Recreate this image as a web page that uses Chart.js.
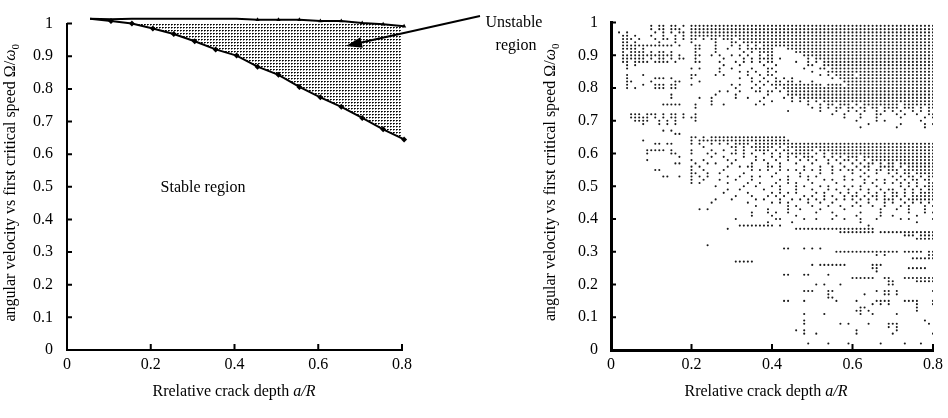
<!DOCTYPE html>
<html>
<head>
<meta charset="utf-8">
<script src="https://cdn.jsdelivr.net/npm/chart.js@4/dist/chart.umd.min.js"></script>
<style>
  html, body { margin: 0; padding: 0; background: #fff; }
  #wrap { position: relative; width: 948px; height: 418px; overflow: hidden; }
  #left { position: absolute; left: 0; top: 0; }
  #right { position: absolute; left: 520px; top: 0; }
</style>
</head>
<body>
<div id="wrap">
  <canvas id="left" width="560" height="418"></canvas>
  <canvas id="right" width="428" height="418"></canvas>
</div>
<script>
// stability boundary (left panel)
const crackDepth = [0.055, 0.105, 0.155, 0.205, 0.255, 0.305, 0.355, 0.405, 0.455, 0.505, 0.555, 0.605, 0.655, 0.705, 0.755, 0.805];
const upperBound = [1.015, 1.013, 1.015, 1.015, 1.015, 1.015, 1.015, 1.015, 1.012, 1.012, 1.012, 1.008, 1.008, 1.002, 0.998, 0.992];
const lowerBound = [1.015, 1.008, 1.0, 0.985, 0.968, 0.946, 0.921, 0.902, 0.868, 0.843, 0.806, 0.774, 0.745, 0.711, 0.676, 0.645];

const xTickValues = [0, 0.2, 0.4, 0.6, 0.8];
const xTickLabels = ["0", "0.2", "0.4", "0.6", "0.8"];
const yTickValues = [0, 0.1, 0.2, 0.3, 0.4, 0.5, 0.6, 0.7, 0.8, 0.9, 1];
const yTickLabels = ["0", "0.1", "0.2", "0.3", "0.4", "0.5", "0.6", "0.7", "0.8", "0.9", "1"];

// unstable points (right panel): "yy:" then one char per a/R column (0.00 .. 0.80, step 0.01), '#' = point
const gridStep = 0.01;
const unstableRows = [
  "99:..........|#.##.##.#.|##########|##########|##########|##########|##########|##########|#",
  "98:..........|#.##.###..|##########|##########|##########|##########|##########|##########|#",
  "97:..#.#.....|.#.#.#.##.|##########|##########|##########|##########|##########|##########|#",
  "96:...##.#...|#..#..#.#.|##########|##########|##########|##########|##########|##########|#",
  "95:...###.#..|.#.##.#.#.|##.#.##.##|#.########|##########|##########|##########|##########|#",
  "94:...##.#...|..#...#...|#.....#...|##.#######|##########|##########|##########|##########|#",
  "93:...#######|######.#..|.##...#...|#.#.#.#.##|##########|##########|##########|##########|#",
  "92:...####.#.|..........|.##...#..#|..#.######|#...######|##########|##########|##########|#",
  "91:...#.####.|#.##.#....|.#....#...|...#.#.###|#.....####|##########|##########|##########|#",
  "90:...#######|######.#..|.##..#.#..|#.#.#..#.#|#.......##|##########|##########|##########|#",
  "89:...######.|#.##.#.##.|.#......#.|...#.#.###|#.#......#|.#########|##########|##########|#",
  "88:...##.####|.####.#...|.##....#..|.#.#.#.#.#|#.....#..#|.#.#######|##########|##########|#",
  "87:....#.#...|..........|........#.|..#.....#.|.#.......#|#..#######|##########|##########|#",
  "86:....#.....|..........|#.#....#..|#....#...#|#.......#.|..##.#####|##########|##########|#",
  "85:..........|..........|.......#..|..#.#.#..#|.#........|#...######|##########|##########|#",
  "84:....#...#.|..........|##....#.#.|....#..#.#|#.........|..#.#.####|#.########|##########|#",
  "83:....#.....|.###.#....|#.........|..#..#..#.|.#.#.#....|.....#.###|##########|##########|#",
  "82:....##....|#.....##..|..#.......|.....#.#.#|.##.##.#..|#.......##|##########|##########|#",
  "81:....#...#.|.###.##...|#.........|#.#...#.#.|##########|###.####.#|##########|##########|#",
  "80:....#.#...|.###.##...|..........|.#...#.#..|.#.#######|##########|##########|##########|#",
  "79:..........|..........|.......#.#|..#...##.#|#.#.######|##########|##########|##########|#",
  "78:..........|.....#....|......#...|.#.......#|....######|##########|##########|##########|#",
  "77:..........|.....#....|..#..#....|.#..#...#.|...#.#.###|##########|##########|##########|#",
  "76:..........|..........|.....#....|.......#..|#....#.#.#|.#.#######|##########|##########|#",
  "75:..........|...#####..|.#...#..#.|......#.#.|.........#|..#.##.###|.#.#######|##.#######|#",
  "74:..........|..........|.#........|..........|..........|#.#.#.##.#|#.##.##.##|##.###.#.#|#",
  "73:..........|..........|..........|..........|....#.....|..#...#..#|.#.#..#.#.|#.#..#.#.#|.",
  "72:.....###.#|##.#.##.#.|.#........|..........|..........|.....#..#.|..#...##..|.#.#..#..#|#",
  "71:.....#####|.#.#.##.#.|##........|..........|..........|........#.|..#...#...|..#.....#.|#",
  "70:......####|..#.#.#...|.#........|..........|..........|..........|.#....#.#.|.......#..|.",
  "69:........#.|..#.#.#...|..........|..........|..........|..........|....#.....|..#.....#.|#",
  "68:..........|..........|..........|..........|..........|..........|..#.......|.#......#.|.",
  "67:..........|...#.#....|..........|..........|..........|..........|..........|..........|.",
  "66:..........|......##..|..........|..........|..........|..........|..........|..........|.",
  "65:..........|..........|##.#.#####|##########|####......|..........|..........|..........|.",
  "64:........#.|..........|#.########|##########|#####.....|..........|..........|..........|.",
  "63:..........|.##.##....|#.#..#.#.#|.####.####|##########|##########|##########|##########|#",
  "62:..........|..........|...#......|##.#.#####|#.#.######|##########|##########|##########|#",
  "61:.........#|####.#....|#....#..#.|.#.#..####|.#.##.####|#.########|##########|##########|#",
  "60:.........#|.....##...|#...#.#...|##.#.#..#.|#.#.######|.#.#.#####|##########|##########|#",
  "59:..........|.......#..|.....#..#.|...#..#...|#.#.#.#.##|#..#.#.#.#|##.#######|##########|#",
  "58:.........#|..........|#..#.....#|.#....#.#.|.#..#..#.#|.#..#.#.##|.#.#.#####|##########|#",
  "57:..........|......##..|.#..#.#...|#....#...#|..#...#...|#...#..#..|#.#.##.#.#|#.########|#",
  "56:..........|..........|#.#......#|..#.##...#|#.#.....#.|..#..#..#.|.#.##..###|#.#.######|#",
  "55:..........|.##.......|#..#....#.|.....#.#.#|..#.#.#.#.|#.#..#.#.#|#.#.#.##.#|##.#######|#",
  "54:..........|..........|##..#..#..|...#......|.#.....#..|..#..#....|#..#..#..#|.#.##.####|#",
  "53:..........|...##..#..|#.#.#....#|..#..#.#..|#...#..#.#|.#......#.|..#.#.....|#.#.##.#.#|#",
  "52:..........|..........|#..#...#..|.#...#....|..#.#....#|...#.#..#.|#..#..#.#.|.#.#.##.##|.",
  "51:..........|..........|#.#......#|....#..#..|.#..#.#...|#.....#...|...#.#..#.|#.#.#.#..#|#",
  "50:..........|..........|......#...|...#..#...|#.#...#.#.|..#.#...#.|#.#...#...|..#.#.#.##|#",
  "49:..........|..........|.........#|..#.....#.|..#...#...|#...#.#..#|..#.#..#.#|#..#.#.#.#|#",
  "48:..........|..........|........#.|....#.....|#.#.#.#...|.#.#...#.#|.#..#.#.#.|##.#.#.###|#",
  "47:..........|..........|..........|.#...#...#|.#.#....#.|#..#.#..#.|##.#.##.#.|##.#.#####|#",
  "46:..........|..........|......#...|#.....#.#.|..#..#.#.#|.#.#..#.#.|#.#.#.#.##|#.#.######|#",
  "45:..........|..........|.....#....|....#.....|#.#.#....#|..#..#....|.#..#...#.|#..#.#.#.#|.",
  "44:..........|..........|..........|......#...|....#.#...|#...#..#..|#.#..#..#.|..#.#...#.|#",
  "43:..........|..........|..#.#.....|.........#|....#..#..|..#.....#.|.......#..|.#..#...#.|.",
  "42:..........|..........|..........|.....#...#|.#..#.....|.#...#....|..#....#..|....#...#.|#",
  "41:..........|..........|..........|.....#....|#.....#...|......#...|.#.....#..|#.....#...|.",
  "40:..........|..........|..........|.#........|.##.....#.|.#...#..#.|..#...#...|..#.#.....|#",
  "39:..........|..........|..........|.........#|.....#....|..........|..#.......|......#...|.",
  "38:..........|..........|..........|..########|#.#.......|..........|....#.....|..........|.",
  "37:..........|..........|.........#|..........|......####|##########|######....|..........|.",
  "36:..........|..........|..........|..........|..........|.......###|######.###|##########|#",
  "35:..........|..........|..........|..........|..........|..........|..........|...###.###|#",
  "34:..........|..........|..........|..........|..........|..........|..........|......####|#",
  "32:..........|..........|....#.....|..........|..........|..........|..........|..........|.",
  "31:..........|..........|..........|..........|...##...#.|#.#.......|..........|..........|.",
  "30:..........|..........|..........|..........|..........|......####|##########|##.#####.#|#",
  "29:..........|..........|..........|..........|..........|..........|......#.#.|.........#|#",
  "28:..........|..........|..........|..........|..........|..........|..........|.....#####|#",
  "27:..........|..........|..........|.#####....|..........|..........|..........|..........|.",
  "26:..........|..........|..........|..........|..........|#.#######.|.....###..|..........|.",
  "25:..........|..........|..........|..........|..........|..........|.....##...|....#####.|.",
  "24:..........|..........|..........|..........|..........|..........|......#...|..........|.",
  "23:..........|..........|..........|..........|...##...##|....#.....|..........|..........|.",
  "22:..........|..........|..........|..........|..........|..........|######..##|...#######|#",
  "21:..........|..........|..........|..........|..........|..........|.........#|#.....####|#",
  "20:..........|..........|..........|..........|..........|.#.#...#..|.........#|#.........|.",
  "18:..........|..........|..........|..........|........##|#...##....|......#.##|.#........|#",
  "17:..........|..........|..........|..........|..........|....#.....|...#....##|.#........|.",
  "16:..........|..........|..........|..........|..........|....##....|..........|..........|.",
  "15:..........|..........|..........|..........|...##...#.|......#...|.#....####|...####...|#",
  "14:..........|..........|..........|..........|..........|..........|.....#.#.#|......#...|#",
  "13:..........|..........|..........|..........|..........|..........|..##......|......#...|.",
  "12:..........|..........|..........|..........|..........|..........|.##.#.....|......#...|.",
  "11:..........|..........|..........|..........|........#.|...#......|..#..#....|.#........|.",
  "09:..........|..........|..........|..........|........#.|..........|..........|........#.|.",
  "08:..........|..........|..........|..........|........#.|.......#.#|....#....#|##.......#|.",
  "07:..........|..........|..........|..........|..........|..........|.........#|.#........|.",
  "06:..........|..........|..........|..........|......#.#.|..........|.#........|.#........|.",
  "05:..........|..........|..........|..........|........#.|.#........|.#........|#.........|#",
  "02:..........|..........|..........|..........|.........#|....#....#|.......#..|...#...#..|."
];

const FONT = '"Liberation Serif", "Times New Roman", serif';
const TEXT_SIZE = 16;

function decodeRows(rows) {
  const pts = [];
  rows.forEach((row) => {
    const [yy, body] = row.split(":");
    const y = parseInt(yy, 10) * gridStep;
    body.split("|").forEach((grp, g) => {
      for (let k = 0; k < grp.length; k++) {
        if (grp[k] === "#") pts.push({ x: +((g * 10 + k) * gridStep).toFixed(2), y: +y.toFixed(2) });
      }
    });
  });
  return pts;
}

function drawRich(ctx, parts, cx, cy, angle) {
  const fontFor = (p) => `${p.italic ? "italic " : ""}${p.sub ? 11 : TEXT_SIZE}px ${FONT}`;
  ctx.save();
  ctx.translate(cx, cy);
  ctx.rotate(angle);
  let total = 0;
  parts.forEach((p) => { ctx.font = fontFor(p); p.w = ctx.measureText(p.text).width; total += p.w; });
  let x = -total / 2;
  ctx.textBaseline = "middle";
  ctx.textAlign = "left";
  ctx.fillStyle = "#000";
  parts.forEach((p) => { ctx.font = fontFor(p); ctx.fillText(p.text, x, p.sub ? 5 : 0); x += p.w; });
  ctx.restore();
}

const yTitle = [
  { text: "angular velocity vs first critical speed Ω/" },
  { text: "ω", italic: true },
  { text: "0", sub: true }
];
const xTitle = [
  { text: "Rrelative crack depth " },
  { text: "a/R", italic: true }
];

// axis titles + inward tick marks
const axisDecor = {
  id: "axisDecor",
  afterDraw(chart, args, opts) {
    const { ctx, chartArea, scales } = chart;
    ctx.save();
    ctx.strokeStyle = "#000";
    ctx.lineWidth = opts.tickWidth;
    ctx.beginPath();
    scales.y.ticks.forEach((t) => {
      const y = scales.y.getPixelForValue(t.value);
      ctx.moveTo(chartArea.left, y);
      ctx.lineTo(chartArea.left + 5, y);
    });
    scales.x.ticks.forEach((t) => {
      const x = scales.x.getPixelForValue(t.value);
      ctx.moveTo(x, chartArea.bottom);
      ctx.lineTo(x, chartArea.bottom - 6);
    });
    ctx.stroke();
    ctx.restore();
    drawRich(ctx, yTitle, opts.yTitleX, (chartArea.top + chartArea.bottom) / 2 - 4, -Math.PI / 2);
    drawRich(ctx, xTitle, opts.xTitleX, 392, 0);
  }
};

// labels and arrow on the left panel
const regionNotes = {
  id: "regionNotes",
  afterDraw(chart) {
    const { ctx } = chart;
    ctx.save();
    ctx.fillStyle = "#000";
    ctx.font = `${TEXT_SIZE}px ${FONT}`;
    ctx.textAlign = "center";
    ctx.textBaseline = "middle";
    ctx.fillText("Stable region", 203, 188);
    ctx.fillText("Unstable", 514, 23);
    ctx.fillText("region", 516, 46);
    // arrow
    const x0 = 480, y0 = 16, x1 = 346, y1 = 46;
    const a = Math.atan2(y1 - y0, x1 - x0);
    ctx.strokeStyle = "#000";
    ctx.lineWidth = 2;
    ctx.beginPath();
    ctx.moveTo(x0, y0);
    ctx.lineTo(x1 - 10 * Math.cos(a), y1 - 10 * Math.sin(a));
    ctx.stroke();
    ctx.beginPath();
    ctx.moveTo(x1, y1);
    ctx.lineTo(x1 - 16 * Math.cos(a) + 5.5 * Math.sin(a), y1 - 16 * Math.sin(a) - 5.5 * Math.cos(a));
    ctx.lineTo(x1 - 16 * Math.cos(a) - 5.5 * Math.sin(a), y1 - 16 * Math.sin(a) + 5.5 * Math.cos(a));
    ctx.closePath();
    ctx.fill();
    ctx.restore();
  }
};

function makeStipple(ctx) {
  const pc = document.createElement("canvas");
  pc.width = 3;
  pc.height = 3;
  const p = pc.getContext("2d");
  p.fillStyle = "#000";
  p.fillRect(0, 0, 1, 1);
  p.fillStyle = "#333";
  p.fillRect(1, 0, 1, 1);
  p.fillStyle = "#888";
  p.fillRect(0, 1, 1, 1);
  return ctx.createPattern(pc, "repeat");
}

function scales(yWidth, axisWidth, labelPad) {
  const tickFont = { family: FONT, size: TEXT_SIZE };
  return {
    x: {
      type: "linear", min: 0, max: 0.8,
      afterFit: (s) => { s.height = 68; },
      afterBuildTicks: (s) => { s.ticks = xTickValues.map((v) => ({ value: v })); },
      ticks: { callback: (v, i) => xTickLabels[i], font: tickFont, color: "#000", padding: 5, maxRotation: 0, autoSkip: false },
      grid: { display: false, drawTicks: false },
      border: { display: true, color: "#000", width: axisWidth }
    },
    y: {
      type: "linear", min: 0, max: 1,
      afterFit: (s) => { s.width = yWidth; },
      afterBuildTicks: (s) => { s.ticks = yTickValues.map((v) => ({ value: v })); },
      ticks: { callback: (v, i) => yTickLabels[i], font: tickFont, color: "#000", padding: labelPad, autoSkip: false },
      grid: { display: false, drawTicks: false },
      border: { display: true, color: "#000", width: axisWidth }
    }
  };
}

const leftCanvas = document.getElementById("left");
const stipple = makeStipple(leftCanvas.getContext("2d"));

new Chart(leftCanvas, {
  type: "scatter",
  data: {
    datasets: [
      {
        data: crackDepth.map((x, i) => ({ x, y: upperBound[i] })),
        showLine: true, fill: false, clip: false,
        borderColor: "#000", borderWidth: 2,
        pointStyle: "triangle", pointRadius: 2.5,
        pointBackgroundColor: "#000", pointBorderColor: "#000", pointBorderWidth: 0
      },
      {
        data: crackDepth.map((x, i) => ({ x, y: lowerBound[i] })),
        showLine: true, fill: "-1", clip: false,
        backgroundColor: stipple,
        borderColor: "#000", borderWidth: 2,
        pointStyle: "rectRot", pointRadius: 3,
        pointBackgroundColor: "#000", pointBorderColor: "#000", pointBorderWidth: 0
      }
    ]
  },
  options: {
    responsive: false,
    animation: false,
    events: [],
    layout: { padding: { top: 10, right: 158, left: 0, bottom: 0 } },
    plugins: {
      legend: { display: false },
      tooltip: { enabled: false },
      axisDecor: { tickWidth: 2, yTitleX: 11, xTitleX: 234 }
    },
    scales: scales(67, 2, 14)
  },
  plugins: [axisDecor, regionNotes]
});

new Chart(document.getElementById("right"), {
  type: "scatter",
  data: {
    datasets: [
      {
        data: decodeRows(unstableRows),
        pointStyle: "circle", pointRadius: 1.05,
        pointBackgroundColor: "#1a1a1a", pointBorderWidth: 0
      }
    ]
  },
  options: {
    responsive: false,
    animation: false,
    events: [],
    layout: { padding: { top: 11, right: 14, left: 0, bottom: 0 } },
    plugins: {
      legend: { display: false },
      tooltip: { enabled: false },
      axisDecor: { tickWidth: 2, yTitleX: 31, xTitleX: 246 }
    },
    scales: scales(91, 3, 13)
  },
  plugins: [axisDecor]
});
</script>
</body>
</html>
